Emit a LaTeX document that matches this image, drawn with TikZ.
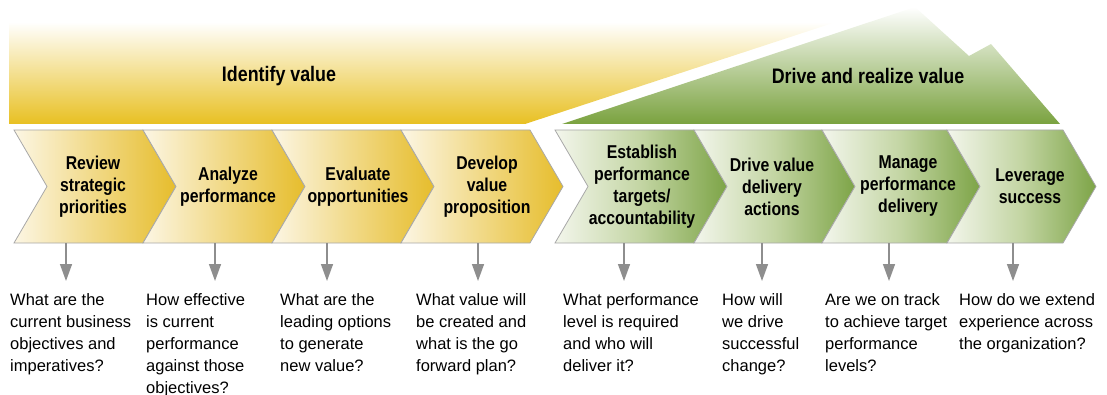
\documentclass[tikz,border=0pt]{standalone}
\usepackage{fontspec}
\setmainfont{Liberation Sans}
\newfontfamily\condfont[FakeStretch=0.85]{Liberation Sans}
\usepackage{xcolor}
\usetikzlibrary{arrows.meta}

\definecolor{yelpale}{HTML}{FCF6E4}
\definecolor{yelmid}{HTML}{F1D986}
\definecolor{yelgold}{HTML}{E6BD2C}
\definecolor{grnpale}{HTML}{F3F6EC}
\definecolor{grnmid}{HTML}{C3D5A3}
\definecolor{grndark}{HTML}{7DA447}
\definecolor{bandyel}{HTML}{E8C022}
\definecolor{bandgrn}{HTML}{7AA23F}
\definecolor{edgegray}{HTML}{A8A8A8}
\definecolor{arrowgray}{HTML}{8E8E8E}

\begin{document}
\begin{tikzpicture}[x=1pt, y=-1pt,
  ychev/.style={draw=edgegray, line width=0.8pt, left color=yelpale, right color=yelgold, middle color=yelmid},
  gchev/.style={draw=edgegray, line width=0.8pt, left color=grnpale, right color=grndark, middle color=grnmid},
  steplabel/.style={font=\condfont\bfseries\fontsize{18.6}{22}\selectfont, align=center, inner sep=0pt, minimum height=113pt},
  question/.style={font=\fontsize{16.5}{22}\selectfont, align=left, anchor=north west, inner xsep=0pt, inner ysep=12pt},
  phase/.style={font=\condfont\bfseries\fontsize{21}{25}\selectfont},
  qarrow/.style={arrowgray, line width=1.5pt, -{Triangle[width=12pt,length=17pt]}}]
\useasboundingbox (0,0) rectangle (1107,395);

% Phase bands
\path[top color=white, bottom color=bandyel] (9,22) -- (836,22) -- (525,124) -- (9,124) -- cycle;
\path[top color=white, bottom color=bandgrn] (562,124) -- (915,7) -- (969,56) -- (991,44) -- (1060,124) -- cycle;
\node[phase] (identify) at (279,76) {Identify value};
\node[phase] (drive) at (868,76) {Drive and realize value};

% Chevrons
\foreach \l/\r in {14/143,143/272,272/401,401/530}
  \path[ychev] (\l,130) -- (\r,130) -- ++(33,56.5) -- (\r,243) -- (\l,243) -- ++(33,-56.5) -- cycle;
\foreach \l/\r in {555/694,694/822,822/947,947/1063}
  \path[gchev] (\l,130) -- (\r,130) -- ++(33,56.5) -- (\r,243) -- (\l,243) -- ++(33,-56.5) -- cycle;

\node[steplabel] (review) at (93,186.5) {Review\\strategic\\priorities};
\node[steplabel] (analyze) at (228,186.5) {Analyze\\performance};
\node[steplabel] (evaluate) at (358,186.5) {Evaluate\\opportunities};
\node[steplabel] (develop) at (487,186.5) {Develop\\value\\proposition};
\node[steplabel] (establish) at (642,186.5) {Establish\\performance\\targets/\\accountability};
\node[steplabel] (deliver) at (772,186.5) {Drive value\\delivery\\actions};
\node[steplabel] (manage) at (908,186.5) {Manage\\performance\\delivery};
\node[steplabel] (leverage) at (1030,186.5) {Leverage\\success};

% Questions
\node[question] (q1) at (10,281) {What are the\\current business\\objectives and\\imperatives?};
\node[question] (q2) at (146,281) {How effective\\is current\\performance\\against those\\objectives?};
\node[question] (q3) at (280,281) {What are the\\leading options\\to generate\\new value?};
\node[question] (q4) at (416,281) {What value will\\be created and\\what is the go\\forward plan?};
\node[question] (q5) at (563,281) {What performance\\level is required\\and who will\\deliver it?};
\node[question] (q6) at (722,281) {How will\\we drive\\successful\\change?};
\node[question] (q7) at (825,281) {Are we on track\\to achieve target\\performance\\levels?};
\node[question] (q8) at (959,281) {How do we extend\\experience across\\the organization?};

\foreach \n/\x in {1/66,2/215,3/327,4/478,5/624,6/762,7/889,8/1013} {
  \coordinate (a\n) at (\x,243);
  \draw[qarrow] (a\n) -- (a\n |- q\n.north);
}

\end{tikzpicture}
\end{document}
